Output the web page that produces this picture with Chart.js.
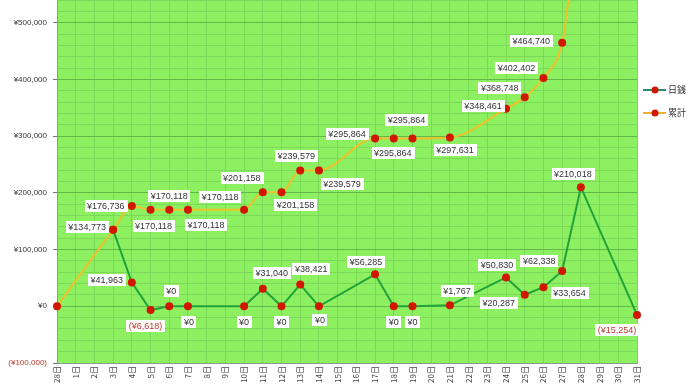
<!DOCTYPE html>
<html lang="ja">
<head>
<meta charset="UTF-8">
<title>日銭と累計</title>
<script src="https://cdn.jsdelivr.net/npm/chart.js"></script>
<style>
  html, body { margin: 0; padding: 0; background: #fff; }
  #wrap { width: 690px; height: 388px; }
</style>
</head>
<body>
<div id="wrap"><canvas id="grafico" width="690" height="388"></canvas></div>
<script>
  // 日付ラベル（前月28日 → 1日〜31日）
  const categories = ['28日', '1日', '2日', '3日', '4日', '5日', '6日', '7日', '8日', '9日', '10日',
    '11日', '12日', '13日', '14日', '15日', '16日', '17日', '18日', '19日', '20日', '21日',
    '22日', '23日', '24日', '25日', '26日', '27日', '28日', '29日', '30日', '31日'];

  // 日銭
  const daily = [null, null, null, 134773, 41963, -6618, 0, 0, null, null, 0,
    31040, 0, 38421, 0, null, null, 56285, 0, 0, null, 1767,
    null, null, 50830, 20287, 33654, 62338, 210018, null, null, -15254];

  // 累計
  const total = [0, null, null, 134773, 176736, 170118, 170118, 170118, null, null, 170118,
    201158, 201158, 239579, 239579, null, null, 295864, 295864, 295864, null, 297631,
    null, null, 348461, 368748, 402402, 464740, 674758, null, null, 659504];

  const yTickMin = -100000;
  const yTickMax = 540000;
  const yTickStep = 20000;
  const yLabelStep = 100000;

  // ラベルの置き場所（点からのずれ）
  const dailyLabelPos = {
    4: [-25, -2], 5: [-5, 16], 6: [2, -15], 7: [1, 16], 10: [0, 16], 11: [9, -16],
    12: [0, 16], 13: [11, -15], 14: [1, 14], 17: [-9, -12], 18: [0, 16], 19: [0, 16],
    21: [7, -14], 24: [-9, -12], 25: [-26, 8], 26: [26, 6], 27: [-23, -10],
    28: [-8, -13], 31: [-20, 15]
  };
  const totalLabelPos = {
    3: [-26, -3], 4: [-26, 0], 5: [3, 16], 6: [0, -14], 7: [18, 15], 10: [-24, -13],
    11: [-21, -14], 12: [14, 13], 13: [-4, -14], 14: [23, 14], 17: [-28, -4],
    18: [-1, 15], 19: [-6, -18], 21: [5, 13], 24: [-23, -3], 25: [-25, -9],
    26: [-27, -10], 27: [-31, -2]
  };

  const fontLatin = '"Liberation Sans", Arial, sans-serif';
  const fontJa = '"Noto Sans CJK JP", "Liberation Sans", sans-serif';

  function yen(v) {
    const s = '¥' + Math.abs(v).toLocaleString('en-US');
    return v < 0 ? '(' + s + ')' : s;
  }

  const plotBg = {
    id: 'plotBg',
    beforeDraw(chart) {
      const a = chart.chartArea, ctx = chart.ctx;
      ctx.save();
      ctx.fillStyle = '#8cf060';
      ctx.fillRect(a.left, a.top, a.right - a.left, a.bottom - a.top);
      ctx.restore();
    }
  };

  const valueLabels = {
    id: 'valueLabels',
    afterDatasetsDraw(chart) {
      const ctx = chart.ctx, a = chart.chartArea;
      const posList = [dailyLabelPos, totalLabelPos];
      ctx.save();
      ctx.font = '9px ' + fontLatin;
      ctx.textAlign = 'center';
      ctx.textBaseline = 'middle';
      chart.data.datasets.forEach((ds, di) => {
        const meta = chart.getDatasetMeta(di);
        const pos = posList[di];
        Object.keys(pos).forEach(k => {
          const i = +k;
          const v = ds.data[i];
          const pt = meta.data[i];
          if (v === null || !pt || pt.y < a.top) return;
          const cx = pt.x + pos[k][0], cy = pt.y + pos[k][1];
          const txt = yen(v);
          const w = ctx.measureText(txt).width + 5;
          ctx.fillStyle = '#ffffff';
          ctx.fillRect(Math.round(cx - w / 2), Math.round(cy - 6), Math.round(w), 12);
          ctx.fillStyle = v < 0 ? '#c0392b' : '#333333';
          ctx.fillText(txt, cx, cy + 0.5);
        });
      });
      ctx.restore();
    }
  };

  const sideLegend = {
    id: 'sideLegend',
    afterDraw(chart) {
      const ctx = chart.ctx;
      const rows = [90, 113];
      ctx.save();
      chart.data.datasets.forEach((ds, di) => {
        const y = rows[di];
        ctx.strokeStyle = ds.legendColor;
        ctx.lineWidth = 2;
        ctx.beginPath();
        ctx.moveTo(643, y);
        ctx.lineTo(666, y);
        ctx.stroke();
        ctx.fillStyle = '#d01800';
        ctx.beginPath();
        ctx.arc(655, y, 3.5, 0, Math.PI * 2);
        ctx.fill();
        ctx.fillStyle = '#333333';
        ctx.font = '9px ' + fontJa;
        ctx.textAlign = 'left';
        ctx.textBaseline = 'middle';
        ctx.fillText(ds.label, 668, y);
      });
      ctx.restore();
    }
  };

  new Chart(document.getElementById('grafico').getContext('2d'), {
    type: 'line',
    data: {
      labels: categories,
      datasets: [{
        label: '日銭',
        data: daily,
        borderColor: '#22a33a',
        legendColor: '#2e8a6a',
        borderWidth: 2,
        pointRadius: 4,
        pointBackgroundColor: '#d01800',
        pointBorderColor: '#d01800',
        pointBorderWidth: 0,
        spanGaps: true,
        tension: 0
      }, {
        label: '累計',
        data: total,
        borderColor: '#efc22a',
        legendColor: '#eeb030',
        borderWidth: 2,
        pointRadius: 4,
        pointBackgroundColor: '#d01800',
        pointBorderColor: '#d01800',
        pointBorderWidth: 0,
        spanGaps: true,
        cubicInterpolationMode: 'monotone'
      }]
    },
    options: {
      responsive: false,
      animation: false,
      devicePixelRatio: 1,
      layout: { autoPadding: false, padding: { top: 0, right: 53, bottom: 0, left: 0 } },
      plugins: {
        legend: { display: false },
        tooltip: { enabled: false }
      },
      scales: {
        x: {
          offset: false,
          afterFit(s) { s.height = 25; s.paddingLeft = 0; s.paddingRight = 0; },
          grid: { color: '#7cd858', drawTicks: false },
          border: { color: '#8a9a8a' },
          ticks: {
            autoSkip: false,
            minRotation: 90,
            maxRotation: 90,
            padding: 3,
            color: '#444444',
            font: { size: 8, family: fontJa }
          }
        },
        y: {
          min: yTickMin,
          max: yTickMax,
          afterFit(s) { s.width = 57; s.paddingTop = 0; s.paddingBottom = 0; },
          grid: {
            color: c => (c.tick && c.tick.value % yLabelStep === 0) ? '#63b84a' : '#7cd858',
            tickColor: c => (c.tick && c.tick.value % yLabelStep === 0) ? '#777777' : 'rgba(0,0,0,0)',
            tickLength: 4
          },
          border: { color: '#8a9a8a' },
          ticks: {
            stepSize: yTickStep,
            autoSkip: false,
            padding: 6,
            color: c => c.tick.value < 0 ? '#c0392b' : '#333333',
            font: { size: 8, family: fontLatin },
            callback: v => v % yLabelStep === 0 ? yen(v) : ''
          }
        }
      }
    },
    plugins: [plotBg, valueLabels, sideLegend]
  });
</script>
</body>
</html>
